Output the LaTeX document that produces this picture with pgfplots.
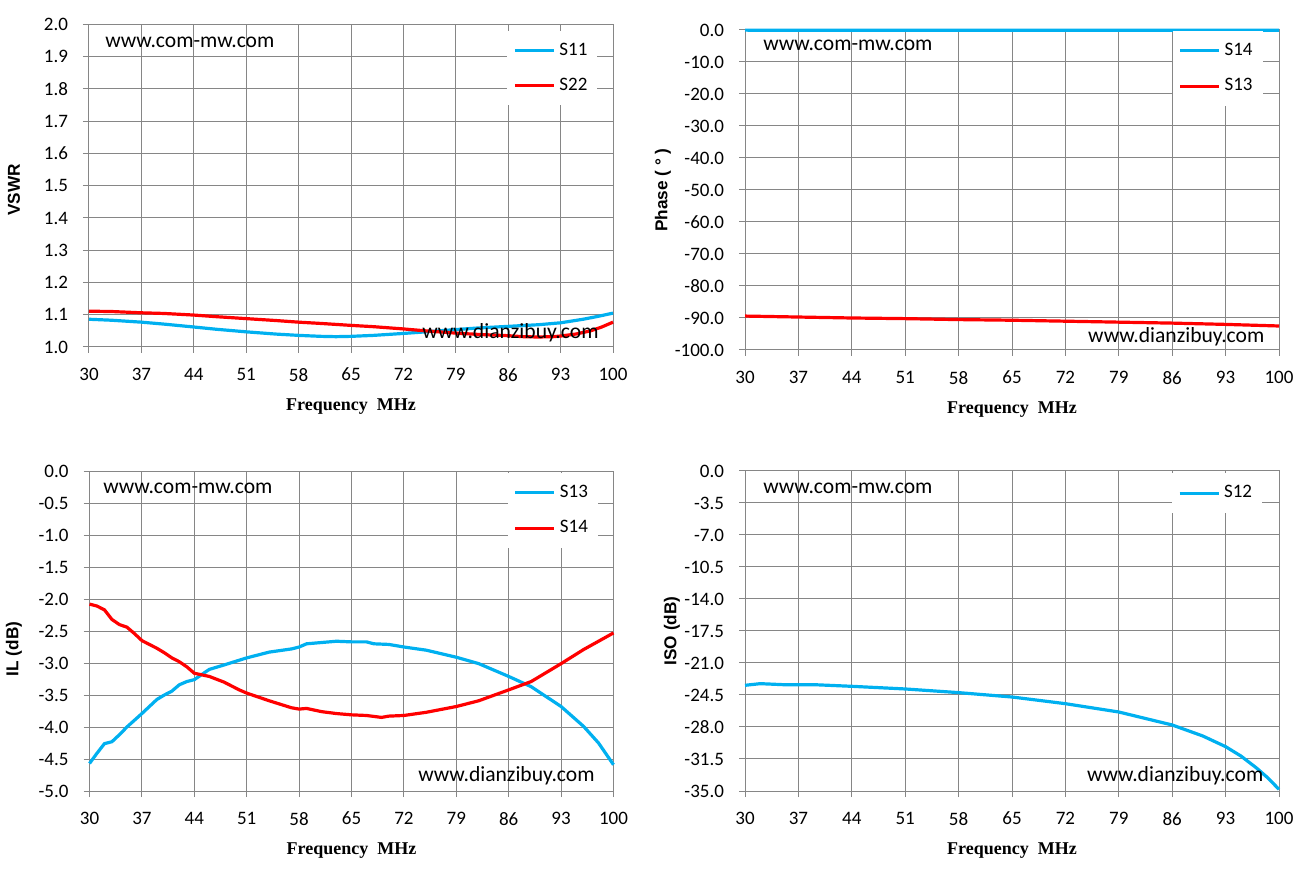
\documentclass[border=0pt]{standalone}
\usepackage{fontspec}
\setmainfont{Carlito}
\newfontfamily\labfont{Liberation Sans}
\newfontfamily\xfont{Liberation Serif}
\usepackage{pgfplots}
\pgfplotsset{compat=1.18}
\definecolor{cblue}{HTML}{00B0F0}
\definecolor{cred}{HTML}{FF0000}
\definecolor{cgrid}{HTML}{868686}
\tikzset{ylab/.style={font=\labfont\bfseries\fontsize{8.6}{10}\selectfont, anchor=center}}
\pgfplotsset{
  excel/.style={
    scale only axis,
    xmin=30, xmax=100,
    xtick={30,37,44,51,58,65,72,79,86,93,100},
    grid=major,
    grid style={cgrid, line width=0.5pt},
    axis line style={cgrid, line width=0.5pt},
    tick align=outside,
    tick pos=left,
    major tick length=3pt,
    tick style={cgrid, line width=0.5pt},
    clip=false,
    ticklabel style={font=\fontsize{9.5}{11}\selectfont},
    /pgf/number format/assume math mode=true,
    y tick label style={/pgf/number format/.cd, fixed, fixed zerofill, precision=1, /tikz/.cd, xshift=-4pt},
    x tick label style={yshift=-4pt},
    xlabel={Frequency\ \ MHz},
    xlabel style={font=\xfont\bfseries\fontsize{9}{11}\selectfont, at={([yshift=-30pt]axis description cs:0.5,0)}, anchor=center},
    legend style={draw=none, fill=white, anchor=center, font=\fontsize{9.5}{11}\selectfont, row sep=6pt, inner xsep=3pt, inner ysep=4pt},
    legend cell align=left,
    legend image code/.code={\draw[##1, line width=1.5pt] (0pt,0pt) -- (19.5pt,0pt);},
  },
  curve/.style={line width=1.6pt, no markers},
}
\newcommand{\wm}{\fontsize{10.8}{12}\selectfont}
\begin{document}
\begin{tikzpicture}
\path[use as bounding box] (0,0) rectangle (652pt,438.5pt);

% ---------- Top left: VSWR ----------
\begin{axis}[excel,
  at={(44.5pt,265pt)}, anchor=south west,
  width=262pt, height=161.25pt,
  ymin=1.0, ymax=2.0,
  ytick={1.0,1.1,1.2,1.3,1.4,1.5,1.6,1.7,1.8,1.9,2.0},
  ylabel={VSWR},
  ylabel style={ylab, at={([xshift=-37.5pt,yshift=-2pt]axis description cs:0,0.5)}},
  legend style={at={(axis description cs:0.8845,0.865)}},
]
\addplot[curve, cblue] coordinates {
(30,1.086) (33,1.083) (37,1.077) (40,1.071) (44,1.062) (47,1.055) (51,1.047)
(55,1.040) (58,1.036) (61,1.033) (63,1.032) (65,1.033) (68,1.036) (72,1.042)
(75,1.047) (79,1.054) (82,1.059) (86,1.064) (90,1.069) (93,1.075) (96,1.086)
(98,1.095) (100,1.105)};
\addlegendentry{S11}
\addplot[curve, cred] coordinates {
(30,1.111) (33,1.110) (37,1.106) (40,1.104) (44,1.099) (47,1.094) (51,1.088)
(55,1.082) (58,1.077) (61,1.073) (65,1.067) (68,1.063) (72,1.056) (75,1.050)
(79,1.043) (82,1.039) (86,1.035) (88,1.032) (90,1.031) (92,1.032) (93,1.034)
(95,1.040) (97,1.050) (98.5,1.062) (100,1.077)};
\addlegendentry{S22}
\node[anchor=west, inner sep=0pt, font=\wm] at (axis description cs:0.0305,0.946) {www.com-mw.com};
\node[anchor=west, inner sep=0pt, font=\wm] at (axis description cs:0.6355,0.0434) {www.dianzibuy.com};
\end{axis}

% ---------- Top right: Phase ----------
\begin{axis}[excel,
  at={(372.5pt,263.5pt)}, anchor=south west,
  width=267pt, height=160pt,
  ymin=-100, ymax=0,
  ytick={-100,-90,-80,-70,-60,-50,-40,-30,-20,-10,0},
  ylabel={Phase ( ° )},
  ylabel style={ylab, at={([xshift=-41pt]axis description cs:0,0.5)}},
  legend style={at={(axis description cs:0.885,0.880)}},
]
\addplot[curve, cblue] coordinates {
(30,-0.05) (44,-0.08) (58,-0.1) (72,-0.1) (86,-0.1) (100,-0.1)};
\addlegendentry{S14}
\addplot[curve, cred] coordinates {
(30,-89.4) (37,-89.7) (44,-90.0) (51,-90.2) (58,-90.5) (65,-90.7) (72,-91.0)
(79,-91.3) (86,-91.6) (93,-92.0) (100,-92.5)};
\addlegendentry{S13}
\node[anchor=west, inner sep=0pt, font=\wm] at (axis description cs:0.0337,0.953) {www.com-mw.com};
\node[anchor=west, inner sep=0pt, font=\wm] at (axis description cs:0.642,0.0406) {www.dianzibuy.com};
\end{axis}

% ---------- Bottom left: IL ----------
\begin{axis}[excel,
  at={(44.75pt,43pt)}, anchor=south west,
  width=262pt, height=160pt,
  ymin=-5, ymax=0,
  ytick={-5,-4.5,-4,-3.5,-3,-2.5,-2,-1.5,-1,-0.5,0},
  ylabel={IL (dB)},
  ylabel style={ylab, at={([xshift=-37.75pt,yshift=-9pt]axis description cs:0,0.5)}},
  legend style={at={(axis description cs:0.8845,0.877)}},
]
\addplot[curve, cblue] coordinates {
(30,-4.57) (31,-4.41) (32,-4.26) (33,-4.23) (34,-4.12) (35,-4.00) (37,-3.79)
(39,-3.57) (40,-3.50) (41,-3.44) (42,-3.34) (43,-3.29) (44,-3.26) (46,-3.10)
(48,-3.03) (51,-2.92) (54,-2.83) (57,-2.78) (58,-2.75) (59,-2.70) (61,-2.68)
(63,-2.66) (65,-2.67) (67,-2.67) (68,-2.70) (70,-2.71) (72,-2.75) (75,-2.80)
(79,-2.91) (82,-3.01) (86,-3.21) (89,-3.37) (93,-3.68) (96,-3.99) (98,-4.25)
(100,-4.59)};
\addlegendentry{S13}
\addplot[curve, cred] coordinates {
(30,-2.08) (31,-2.11) (32,-2.17) (33,-2.32) (34,-2.40) (35,-2.44) (36,-2.54)
(37,-2.65) (38,-2.71) (39,-2.77) (40,-2.84) (41,-2.92) (42,-2.98) (43,-3.06)
(44,-3.16) (46,-3.21) (48,-3.30) (50,-3.42) (51,-3.47) (54,-3.59) (57,-3.70)
(58,-3.72) (59,-3.71) (61,-3.76) (63,-3.79) (65,-3.81) (67,-3.82) (69,-3.85)
(70,-3.83) (72,-3.82) (75,-3.77) (79,-3.68) (82,-3.59) (86,-3.42) (89,-3.29)
(93,-3.01) (96,-2.79) (100,-2.53)};
\addlegendentry{S14}
\node[anchor=west, inner sep=0pt, font=\wm] at (axis description cs:0.0258,0.947) {www.com-mw.com};
\node[anchor=west, inner sep=0pt, font=\wm] at (axis description cs:0.627,0.047) {www.dianzibuy.com};
\end{axis}

% ---------- Bottom right: ISO ----------
\begin{axis}[excel,
  at={(372.5pt,43pt)}, anchor=south west,
  width=267pt, height=160pt,
  ymin=-35, ymax=0,
  ytick={-35,-31.5,-28,-24.5,-21,-17.5,-14,-10.5,-7,-3.5,0},
  ylabel={ISO (dB)},
  ylabel style={ylab, at={([xshift=-36.5pt]axis description cs:0,0.5)}},
  legend style={at={(axis description cs:0.884,0.931)}},
]
\addplot[curve, cblue] coordinates {
(30,-23.44) (32,-23.26) (35,-23.37) (39,-23.37) (44,-23.55) (51,-23.84)
(58,-24.24) (65,-24.72) (72,-25.45) (79,-26.36) (86,-27.78) (90,-28.98)
(93,-30.15) (95,-31.17) (97,-32.45) (98.5,-33.54) (100,-34.82)};
\addlegendentry{S12}
\node[anchor=west, inner sep=0pt, font=\wm] at (axis description cs:0.0337,0.947) {www.com-mw.com};
\node[anchor=west, inner sep=0pt, font=\wm] at (axis description cs:0.640,0.047) {www.dianzibuy.com};
\end{axis}
\end{tikzpicture}
\end{document}
